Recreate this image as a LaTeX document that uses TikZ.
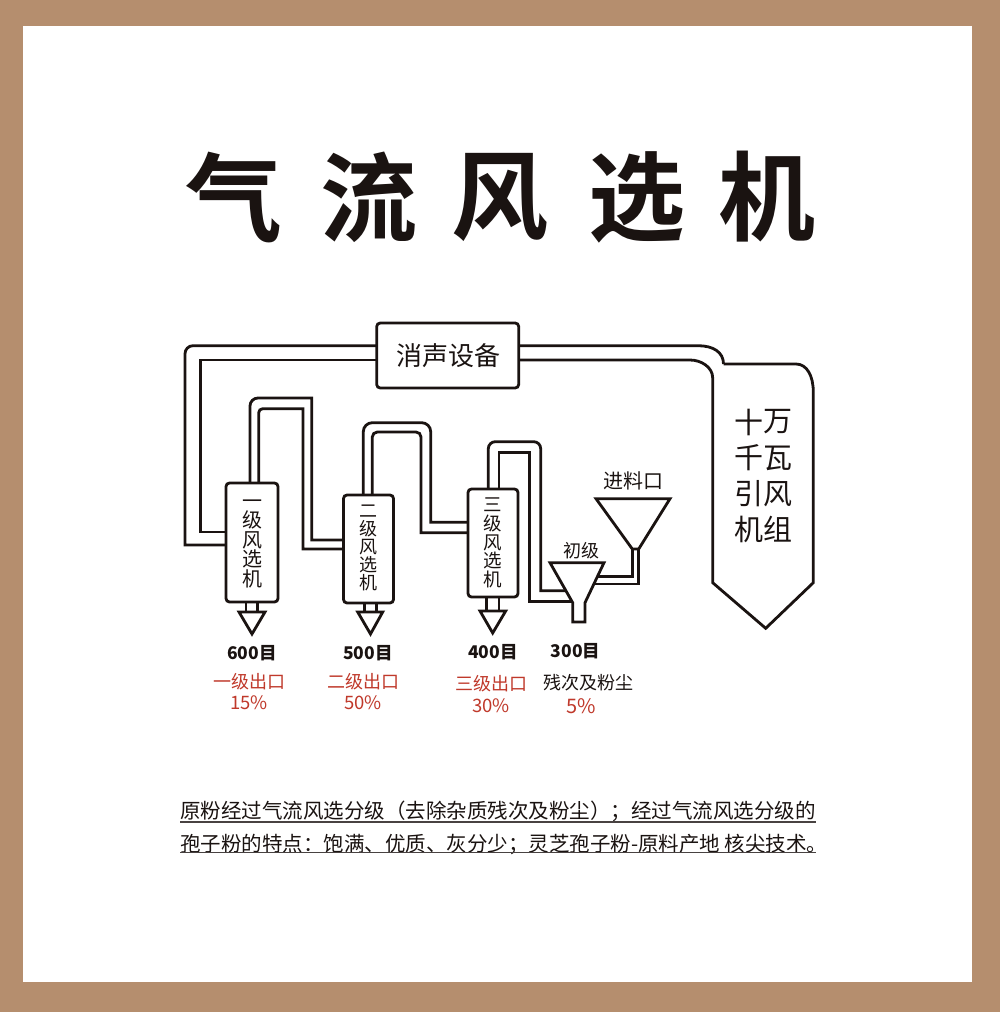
\documentclass[tikz,border=0pt]{standalone}
\usepackage{fontspec}
\setmainfont{Noto Sans CJK SC}
\newfontfamily\titlefont{Noto Sans CJK SC Bold}
\definecolor{frame}{HTML}{B58E6E}
\definecolor{ink}{HTML}{1A1311}
\definecolor{redtxt}{HTML}{C0392B}
\newcommand{\fs}[1]{\fontsize{#1}{#1}\selectfont}
\tikzset{
  x=1pt,y=-1pt,
  pipe/.style={draw=ink,line width=2.8pt,line join=miter},
  box/.style={draw=ink,line width=2.8pt,fill=white,rounded corners=3.5pt,inner sep=0pt,outer sep=0pt,anchor=north west},
  shell/.style={draw=ink,line width=2.8pt,fill=white,line join=miter},
  txt/.style={inner sep=0pt,text=ink,align=center},
  red/.style={inner sep=0pt,text=redtxt,align=center},
  ttl/.style={inner sep=0pt,text=ink,font=\titlefont\fs{97}},
  rule/.style={draw=ink!80,line width=1.2pt}
}
\begin{document}
\begin{tikzpicture}
\useasboundingbox (0,0) rectangle (1000,1012);
\fill[frame] (0,0) rectangle (1000,1012);
\fill[white] (23,26) rectangle (972,982);

% title
\node[ttl] (t1) at (234,197) {气};
\node[ttl] (t2) at (369,197) {流};
\node[ttl] (t3) at (500,197) {风};
\node[ttl] (t4) at (637,197) {选};
\node[ttl] (t5) at (767,197) {机};

% boxes
\node[box,minimum width=142pt,minimum height=65pt] (sil) at (376.7,323) {};
\node[box,minimum width=52pt,minimum height=119pt] (m1) at (226,483) {};
\node[box,minimum width=50pt,minimum height=108pt] (m2) at (343.5,495) {};
\node[box,minimum width=50pt,minimum height=108pt] (m3) at (468,489) {};

% silencer to machine 1
\draw[pipe] (sil.west |- 0,345.7) [rounded corners=8pt] -- (185,345.7) [sharp corners] -- (185,545) -- (m1.west |- 0,545);
\draw[pipe] (sil.west |- 0,360) -- (200.7,360) -- (200.7,532) -- (m1.west |- 0,532);
% machine 1 to 2
\draw[pipe] (250,0 |- m1.north) [rounded corners=8pt] -- (250,398) [sharp corners] -- (311.7,398) -- (311.7,540) -- (m2.west |- 0,540);
\draw[pipe] (258.7,0 |- m1.north) [rounded corners=4pt] -- (258.7,408.7) [sharp corners] -- (303,408.7) -- (303,549) -- (m2.west |- 0,549);
% machine 2 to 3
\draw[pipe] (363.3,0 |- m2.north) [rounded corners=9pt] -- (363.3,422.7) -- (430.7,422.7) [sharp corners] -- (430.7,522.3) -- (m3.west |- 0,522.3);
\draw[pipe] (372.3,0 |- m2.north) [rounded corners=5pt] -- (372.3,432) -- (421,432) [sharp corners] -- (421,532.7) -- (m3.west |- 0,532.7);
% machine 3 to small funnel
\draw[pipe] (488.3,0 |- m3.north) [rounded corners=7pt] -- (488.3,441.7) -- (540.7,441.7) [sharp corners] -- (540.7,590.7) -- (570,590.7);
\draw[pipe] (499,0 |- m3.north) -- (499,452.7) -- (529.3,452.7) -- (529.3,601.7) -- (575,601.7);
% big funnel to small funnel
\draw[pipe] (632.3,549) -- (632.3,576.7) -- (590,576.7);
\draw[pipe] (638.7,549) -- (638.7,584) -- (590,584);

% silencer to fan
\draw[pipe] (sil.east |- 0,345.7) -- (698,345.7) .. controls (713,345.7) and (723.5,352) .. (723.5,364);
\draw[pipe] (sil.east |- 0,360) -- (690,360) .. controls (701,360) and (712.7,367) .. (712.7,378);
% fan
\draw[pipe] (723.5,364) -- (796,364) .. controls (807,364) and (813.3,376) .. (813.3,392)
  -- (813.3,582.7) -- (765.7,628.3) -- (712.7,582.7) -- (712.7,378);

% funnels
\draw[shell] (550,562.7) -- (604,562.7) -- (585,602.7) -- (585,622) -- (572.7,622) -- (572.7,602.7) -- cycle;
\draw[shell] (596,498.7) -- (670,498.7) -- (638.7,549) -- (632.3,549) -- cycle;

% outlets
\draw[pipe] (246,0 |- m1.south) -- (246,612);
\draw[pipe] (257.7,0 |- m1.south) -- (257.7,612);
\draw[shell] (239,612) -- (265,612) -- (252,634) -- cycle;
\draw[pipe] (364.3,0 |- m2.south) -- (364.3,612);
\draw[pipe] (376.7,0 |- m2.south) -- (376.7,612);
\draw[shell] (357.7,612) -- (382.7,612) -- (370.5,634) -- cycle;
\draw[pipe] (486.7,0 |- m3.south) -- (486.7,611);
\draw[pipe] (499,0 |- m3.south) -- (499,611);
\draw[shell] (480,611) -- (505.7,611) -- (492.7,633) -- cycle;

% box labels
\node[txt,font=\fs{26}] (silt) at (448,356) {消声设备};
\node[txt,font=\fontsize{20}{19.5}\selectfont] (m1t) at (252,543.5) {一\\级\\风\\选\\机};
\node[txt,font=\fontsize{18}{18.2}\selectfont] (m2t) at (368,548) {二\\级\\风\\选\\机};
\node[txt,font=\fontsize{18.5}{18.8}\selectfont] (m3t) at (493,543) {三\\级\\风\\选\\机};
\node[txt,font=\fs{29}] (f1) at (749,422) {十};
\node[txt,font=\fs{29}] (f2) at (778,422) {万};
\node[txt,font=\fs{29}] (f3) at (749,458) {千};
\node[txt,font=\fs{29}] (f4) at (778,458) {瓦};
\node[txt,font=\fs{29}] (f5) at (749,494) {引};
\node[txt,font=\fs{29}] (f6) at (778,494) {风};
\node[txt,font=\fs{29}] (f7) at (749,529) {机};
\node[txt,font=\fs{29}] (f8) at (778,529) {组};
\node[txt,font=\fs{20}] (feed) at (633,481) {进料口};
\node[txt,font=\fs{18}] (prim) at (581,551) {初级};

% mesh values
\node[txt,font=\bfseries\fs{17.5}] (a1) at (252,653) {600目};
\node[txt,font=\bfseries\fs{17.5}] (a2) at (368,653) {500目};
\node[txt,font=\bfseries\fs{17.5}] (a3) at (493,652) {400目};
\node[txt,font=\bfseries\fs{17.5}] (a4) at (575.5,651) {300目};
\node[red,font=\fs{18}] (b1) at (249,682) {一级出口};
\node[red,font=\fs{18.5}] (c1) at (249,703) {15\%};
\node[red,font=\fs{18}] (b2) at (363,682) {二级出口};
\node[red,font=\fs{18.5}] (c2) at (363,703) {50\%};
\node[red,font=\fs{18}] (b3) at (491,684) {三级出口};
\node[red,font=\fs{18.5}] (c3) at (491,706) {30\%};
\node[txt,font=\fs{18}] (b4) at (588,683) {残次及粉尘};
\node[red,font=\fs{20}] (c4) at (581,706) {5\%};

% paragraph
\node[txt,font=\fs{20.5},anchor=base west] (p1) at (180,818) {原粉经过气流风选分级（去除杂质残次及粉尘）；经过气流风选分级的};
\node[txt,font=\fs{20.5},anchor=base west] (p2) at (180,851) {孢子粉的特点：饱满、优质、灰分少；灵芝孢子粉-原料产地 核尖技术。};
\draw[rule] (180,822) -- (816,822);
\draw[rule] (180,852.5) -- (816,852.5);
\end{tikzpicture}
\end{document}
